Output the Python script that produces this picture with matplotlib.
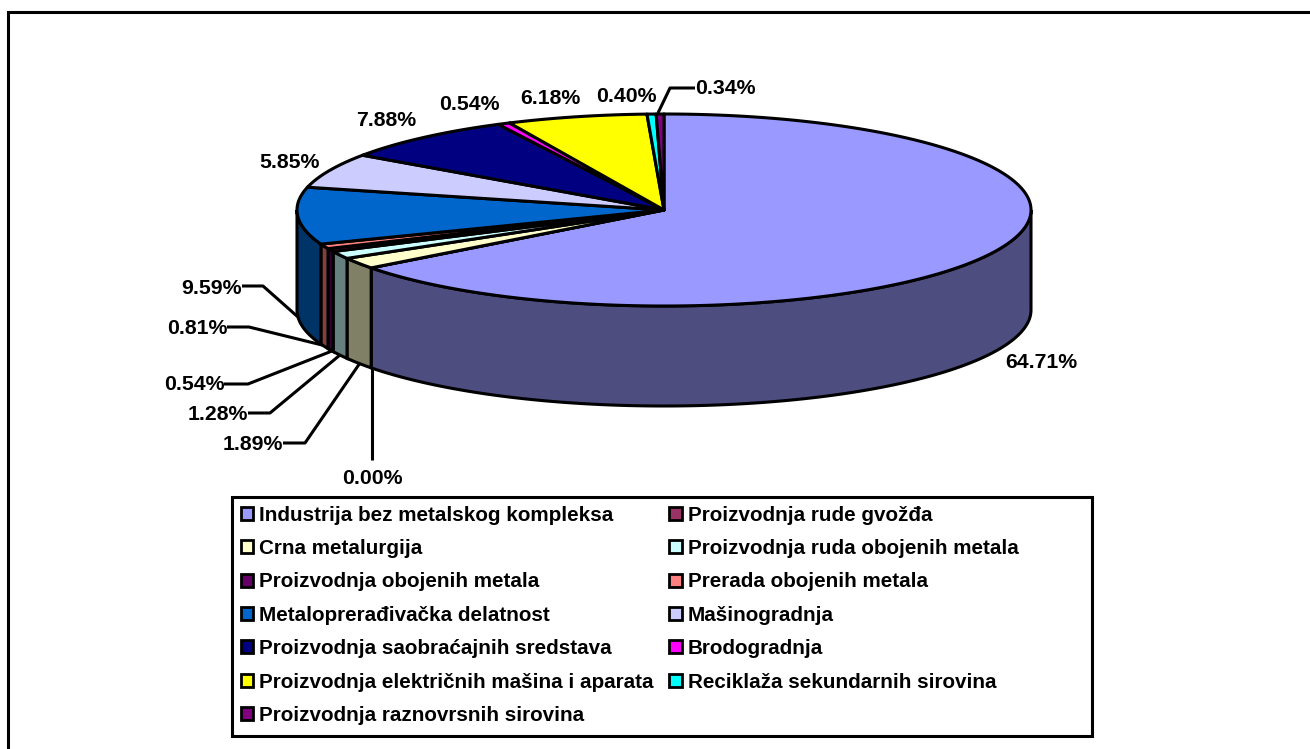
import numpy as np
import matplotlib
matplotlib.use("Agg")
import matplotlib.pyplot as plt
from matplotlib.patches import Patch, Polygon, Rectangle

plt.rcParams['font.family'] = ['Liberation Sans', 'DejaVu Sans']

categories = ['Industrija bez metalskog kompleksa', 'Proizvodnja rude gvožđa', 'Crna metalurgija',
              'Proizvodnja ruda obojenih metala', 'Proizvodnja obojenih metala', 'Prerada obojenih metala',
              'Metaloprerađivačka delatnost', 'Mašinogradnja', 'Proizvodnja saobraćajnih sredstava',
              'Brodogradnja', 'Proizvodnja električnih mašina i aparata', 'Reciklaža sekundarnih sirovina',
              'Proizvodnja raznovrsnih sirovina']
values = [64.71, 0.00, 1.89, 1.28, 0.54, 0.81, 9.59, 5.85, 7.88, 0.54, 6.18, 0.40, 0.34]
colors = ['#9999FF', '#993366', '#FFFFCC', '#CCFFFF', '#660066', '#FF8080', '#0066CC',
          '#CCCCFF', '#000080', '#FF00FF', '#FFFF00', '#00FFFF', '#800080']

# label placement in pixels: x, y, horizontal alignment
label_pos = [(1041, 362, 'center'), (372, 478, 'center'), (283, 445, 'right'), (248, 414, 'right'),
             (225, 385, 'right'), (227, 328, 'right'), (242, 288, 'right'), (289, 163, 'center'),
             (386, 120, 'center'), (469, 105, 'center'), (550, 98, 'center'), (626, 97, 'center'),
             (695, 89, 'left')]
leaders = [[(242, 286), (263, 286), (298, 317)],
           [(227, 327), (249, 327), (322, 345)],
           [(224, 384), (248, 384), (332, 351)],
           [(248, 413), (270, 413), (340, 355)],
           [(283, 443), (305, 443), (360, 363)],
           [(372, 368), (372, 460)],
           [(695, 88), (670, 88), (658, 113)]]

cx, cy = 664, 210
rx, ry = 367, 96
depth = 100
lw = 2.2
fs = 15.3


def rim(a, dy=0):
    # a = degrees clockwise from the top of the pie
    a = np.radians(a)
    return np.column_stack([cx + rx * np.sin(a), cy - ry * np.cos(a) + dy])


def darker(c):
    return tuple(v * 0.5 for v in matplotlib.colors.to_rgb(c))


fig = plt.figure(figsize=(13.1, 7.49), dpi=100)
ax = fig.add_axes([0, 0, 1, 1])
ax.set_xlim(0, 1310)
ax.set_ylim(749, 0)
ax.axis('off')

# only the top and left edges of the chart frame show
ax.plot([8, 8, 1310], [749, 12, 12], color='black', lw=2.2, zorder=1, solid_joinstyle='miter')

edges = np.cumsum([0] + values) / sum(values) * 360

# side wall, only the front half shows
for i in range(len(values)):
    a0, a1 = max(edges[i], 90), min(edges[i + 1], 270)
    if a1 <= a0:
        continue
    t = np.linspace(a0, a1, 200)
    pts = np.vstack([rim(t), rim(t[::-1], depth)])
    ax.add_patch(Polygon(pts, closed=True, fc=darker(colors[i]), ec='black', lw=lw, zorder=2))

# top face
for i in range(len(values)):
    t = np.linspace(edges[i], edges[i + 1], 300)
    pts = np.vstack([[cx, cy], rim(t)])
    ax.add_patch(Polygon(pts, closed=True, fc=colors[i], ec='black', lw=lw, joinstyle='round', zorder=3))

for pts in leaders:
    xs, ys = zip(*pts)
    ax.plot(xs, ys, color='black', lw=lw, zorder=4, solid_capstyle='butt')

for v, (x, y, ha) in zip(values, label_pos):
    ax.text(x, y, '%.2f%%' % v, ha=ha, va='center', fontsize=fs, fontweight='bold', zorder=5)

# legend fills row by row in the original, matplotlib goes by column
handles = [Patch(fc=c, ec='black', lw=2) for c in colors]
order = list(range(0, 13, 2)) + list(range(1, 13, 2))
ax.add_patch(Rectangle((232, 497), 860, 239, fc='white', ec='black', lw=lw, zorder=6))
leg = ax.legend([handles[i] for i in order], [categories[i] for i in order], ncols=2,
                loc='upper left', bbox_to_anchor=(232, 497), bbox_transform=ax.transData,
                frameon=False, prop={'size': 14.9, 'weight': 'bold'},
                handlelength=0.6, handleheight=0.6, handletextpad=0.3,
                labelspacing=0.695, columnspacing=0.75, borderpad=0.42, borderaxespad=0)
leg.set_zorder(7)

fig.savefig('out.png', dpi=100)
